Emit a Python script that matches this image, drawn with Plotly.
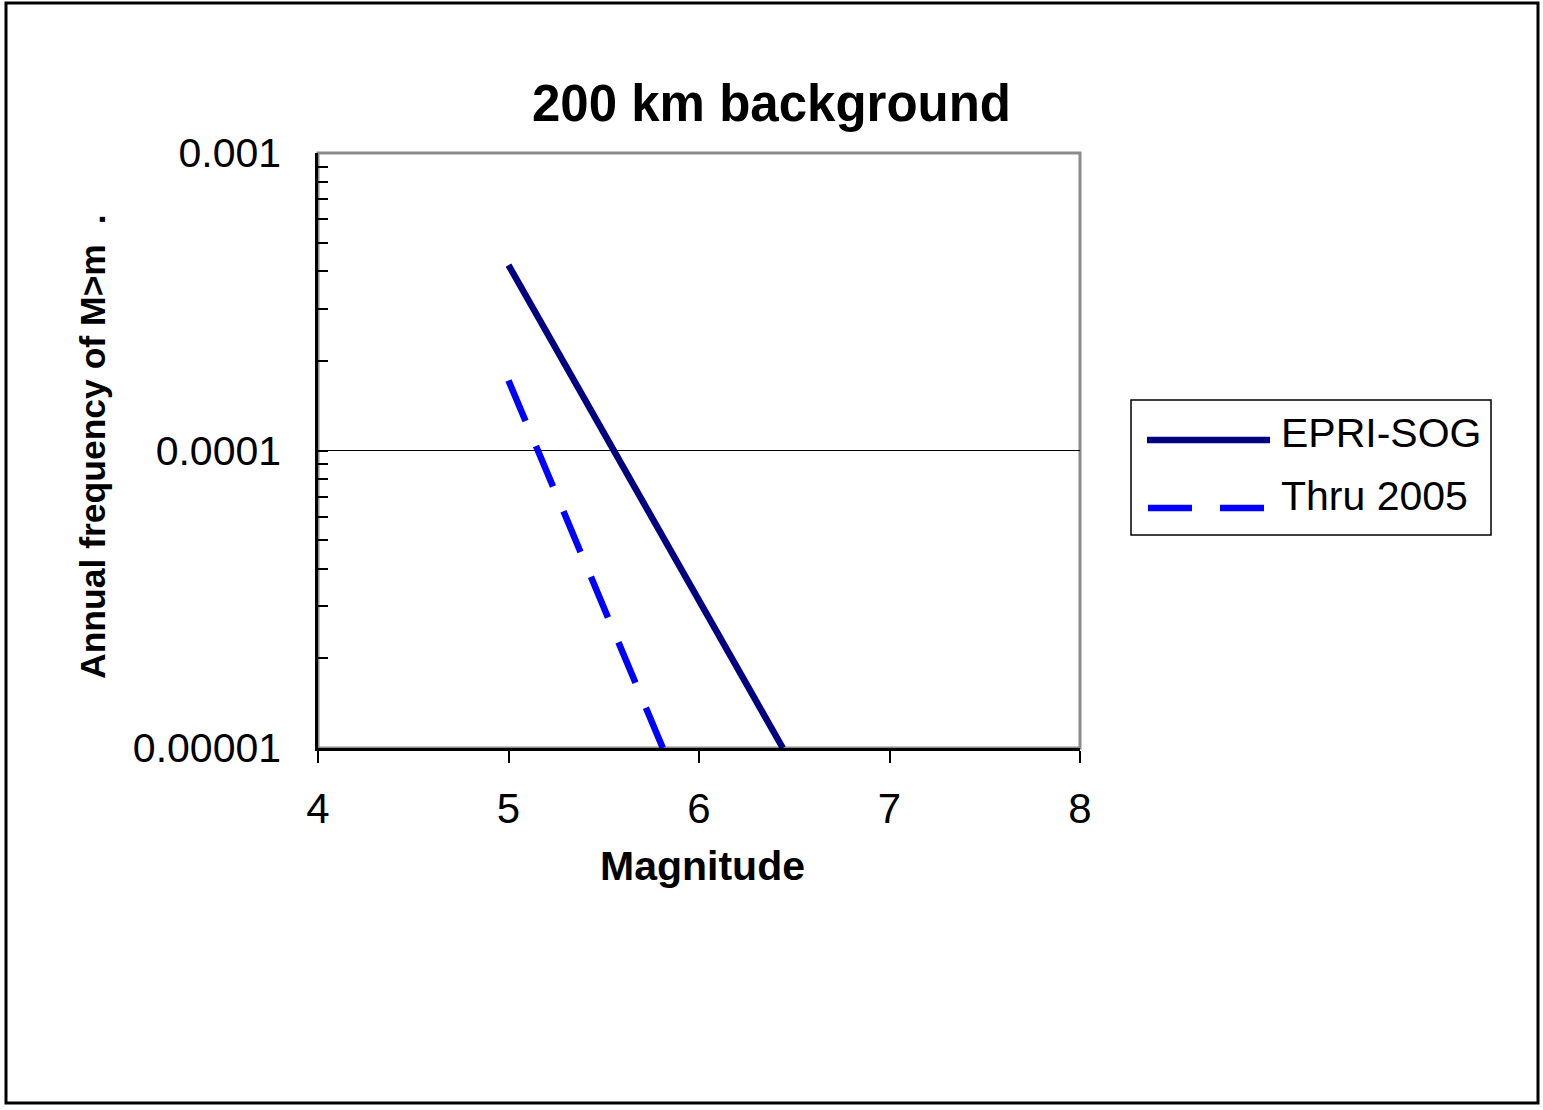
import plotly.graph_objects as go

# ---- data ----
series_names = ["EPRI-SOG", "Thru 2005"]
epri_mag = [5.0, 6.44]
epri_freq = [4.2e-4, 1.0e-5]
thru_mag = [5.0, 5.81]
thru_freq = [1.72e-4, 1.0e-5]
x_ticks = [4, 5, 6, 7, 8]
y_tickvals = [1e-5, 1e-4, 1e-3]
y_ticktext = ["0.00001", "0.0001", "0.001"]
y_minor = [m * 1e-5 for m in range(2, 10)] + [m * 1e-4 for m in range(2, 10)]

W, H = 1543, 1110
L, R, T, B = 318, 1080, 153, 748
FONT = "Liberation Sans, Arial, sans-serif"
NAVY = "#000080"
BLUE = "#0000FF"

def px(x):
    return (x - L) / (R - L)

def py(y):
    return (B - y) / (B - T)

fig = go.Figure()
fig.add_trace(go.Scatter(x=epri_mag, y=epri_freq, mode="lines", name=series_names[0],
                         line=dict(color=NAVY, width=6.5), showlegend=False))
fig.add_trace(go.Scatter(x=thru_mag, y=thru_freq, mode="lines", name=series_names[1],
                         line=dict(color=BLUE, width=6.5, dash="44px,27px"), showlegend=False))

shapes = []
# outer border
shapes.append(dict(type="rect", xref="paper", yref="paper", x0=px(6), x1=px(1538), y0=py(1103), y1=py(3),
                   line=dict(color="black", width=3), layer="below"))
# plot frame (gray top/right)
shapes.append(dict(type="rect", xref="paper", yref="paper", x0=0, x1=1, y0=0, y1=1,
                   line=dict(color="#8c8c8c", width=3), layer="below"))
# legend box
shapes.append(dict(type="rect", xref="paper", yref="paper", x0=px(1131), x1=px(1491), y0=py(535), y1=py(400),
                   line=dict(color="black", width=1.5), fillcolor="white"))
shapes.append(dict(type="line", xref="paper", yref="paper", x0=px(1147), x1=px(1270), y0=py(440), y1=py(440),
                   line=dict(color=NAVY, width=6.5)))
shapes.append(dict(type="line", xref="paper", yref="paper", x0=px(1148), x1=px(1266), y0=py(508), y1=py(508),
                   line=dict(color=BLUE, width=6.5, dash="44px,28px")))

annotations = [
    dict(text=series_names[0], xref="paper", yref="paper", x=px(1279), y=py(433), xanchor="left",
         yanchor="middle", showarrow=False, font=dict(family=FONT, size=41, color="black")),
    dict(text=series_names[1], xref="paper", yref="paper", x=px(1279), y=py(496), xanchor="left",
         yanchor="middle", showarrow=False, font=dict(family=FONT, size=41, color="black")),
    dict(text="<b>Magnitude</b>", xref="paper", yref="paper", x=px(702), y=py(866), xanchor="center",
         yanchor="middle", showarrow=False, font=dict(family=FONT, size=41, color="black")),
    dict(text="<b>Annual frequency of M>m  .</b>", xref="paper", yref="paper", x=px(93), y=py(447),
         xanchor="center", yanchor="middle", textangle=-90, showarrow=False,
         font=dict(family=FONT, size=35.5, color="black")),
]

fig.update_layout(
    width=W, height=H,
    margin=dict(l=L, r=W - R, t=T, b=H - B, autoexpand=False),
    paper_bgcolor="white", plot_bgcolor="white",
    font=dict(family=FONT, color="black"),
    title=dict(text="<b>200 km background</b>", x=0.5, xref="container", xanchor="center",
               y=1 - 103 / H, yref="container", yanchor="middle",
               font=dict(family=FONT, size=51, color="black")),
    shapes=shapes, annotations=annotations,
    showlegend=False,
)
fig.update_xaxes(range=[4, 8], tickvals=x_ticks, ticks="outside", ticklen=12, tickwidth=1.5,
                 tickcolor="black", showline=True, linecolor="black", linewidth=2.5,
                 showgrid=False, zeroline=False, ticklabelstandoff=10,
                 tickfont=dict(family=FONT, size=42, color="black"))
fig.update_yaxes(type="log", range=[-5, -3], tickvals=y_tickvals, ticktext=y_ticktext,
                 ticks="inside", ticklen=10, tickwidth=1.5, tickcolor="black",
                 minor=dict(tickvals=y_minor, ticks="inside", ticklen=10, tickwidth=1.5,
                            tickcolor="black", showgrid=False),
                 showline=True, linecolor="black", linewidth=2.5, ticklabelstandoff=26,
                 showgrid=True, gridcolor="black", gridwidth=1, zeroline=False,
                 tickfont=dict(family=FONT, size=41, color="black"))

fig.write_html("out.html", config={"displayModeBar": False},
               post_script="document.body.style.margin='0';document.body.style.overflow='hidden';")
